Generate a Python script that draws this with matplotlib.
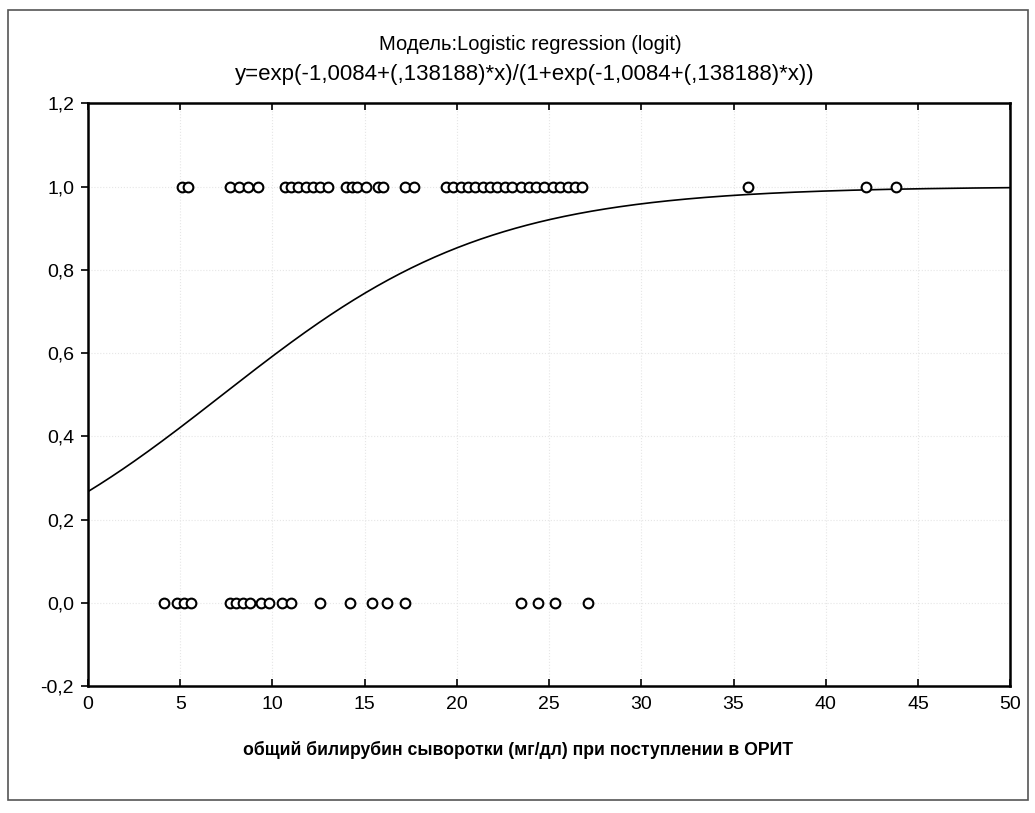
import numpy as np
import matplotlib.pyplot as plt
from matplotlib.patches import Rectangle

# observed values (bilirubin, mg/dl), outcome 1 and outcome 0
x_one = [5.1, 5.4, 7.7, 8.2, 8.7, 9.2,
         10.7, 11.0, 11.4, 11.8, 12.2, 12.6, 13.0, 14.0, 14.3, 14.6, 15.1,
         15.7, 16.0, 17.2, 17.7, 19.4, 19.8, 20.2, 20.6, 21.0, 21.4, 21.8,
         22.2, 22.6, 23.0, 23.5, 23.9, 24.3, 24.7, 25.2, 25.6, 26.0, 26.4,
         26.8, 35.8, 42.2, 43.8]
x_zero = [4.1, 4.8, 5.2, 5.6, 7.7, 8.0, 8.4, 8.8, 9.4, 9.8, 10.5, 11.0,
          12.6, 14.2, 15.4, 16.2, 17.2, 23.5, 24.4, 25.3, 27.1]

# model coefficients printed in the title
b0 = -1.0084
b1 = 0.138188

xticks = [0, 5, 10, 15, 20, 25, 30, 35, 40, 45, 50]
yticks = [-0.2, 0.0, 0.2, 0.4, 0.6, 0.8, 1.0, 1.2]
ytick_labels = ["-0,2", "0,0", "0,2", "0,4", "0,6", "0,8", "1,0", "1,2"]

plt.rcParams['font.family'] = ['Liberation Sans', 'DejaVu Sans']

fig = plt.figure(figsize=(10.35, 8.13), dpi=100)
ax = fig.add_axes([0.085, 0.156, 0.891, 0.717])

xs = np.linspace(0, 50, 400)
z = b0 + b1 * xs
ax.plot(xs, np.exp(z) / (1 + np.exp(z)), color='black', lw=1.2, zorder=3)

ax.plot(x_one, [1.0] * len(x_one), 'o', mfc='white', mec='black',
        mew=1.5, ms=7, zorder=4)
ax.plot(x_zero, [0.0] * len(x_zero), 'o', mfc='white', mec='black',
        mew=1.5, ms=7, zorder=4)

ax.set_xlim(0, 50)
ax.set_ylim(-0.2, 1.2)
ax.set_xticks(xticks)
ax.set_xticklabels([str(t) for t in xticks])
ax.set_yticks(yticks)
ax.set_yticklabels(ytick_labels)
ax.tick_params(labelsize=14, length=5, width=1.2, color='black')
ax.tick_params(axis='x', top=True, direction='in', pad=7)
ax.tick_params(axis='y', direction='out', pad=5)
ax.grid(True, color='#e6e6e6', lw=0.8, ls=':')
for s in ax.spines.values():
    s.set_linewidth(1.8)

ax.set_xlabel("общий билирубин сыворотки (мг/дл) при поступлении в ОРИТ",
              fontsize=12.7, fontweight='bold', labelpad=20, x=0.466)

fig.text(0.512, 0.945, "Модель:Logistic regression (logit)",
         ha='center', va='center', fontsize=14.5)
fig.text(0.507, 0.908,
         "y=exp(-1,0084+(,138188)*x)/(1+exp(-1,0084+(,138188)*x))",
         ha='center', va='center', fontsize=16)

fig.patches.append(Rectangle((0.008, 0.016), 0.985, 0.972,
                             transform=fig.transFigure, fill=False,
                             edgecolor='#555555', lw=1.2))

fig.savefig("out.png", dpi=100)
